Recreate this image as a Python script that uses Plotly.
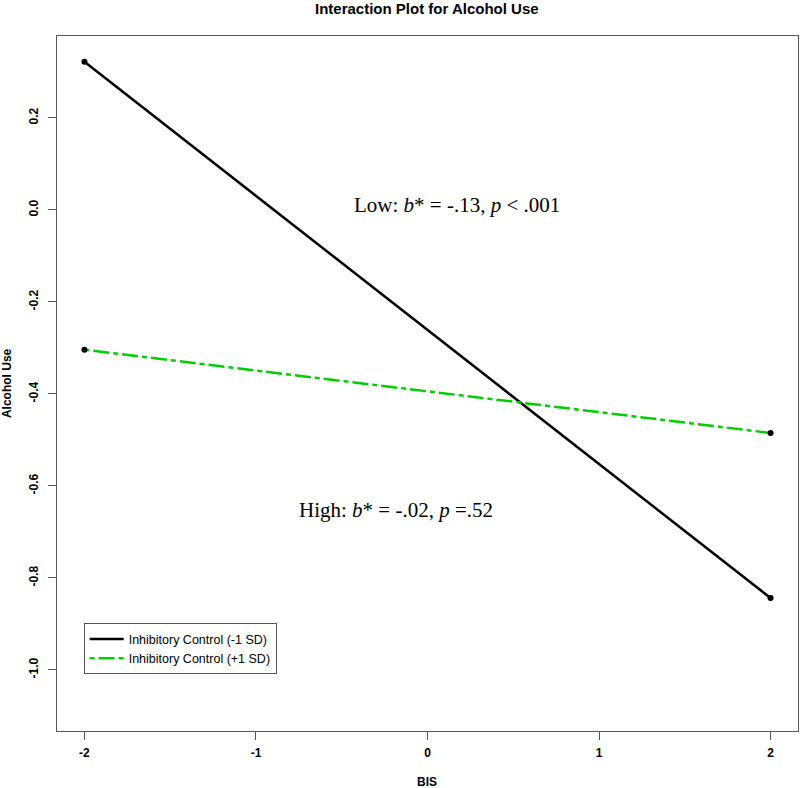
import plotly.graph_objects as go

# BIS at -1 SD and +1 SD (plotted as -2 / 2)
bis = [-2, 2]
low_ic = [0.322, -0.844]   # Inhibitory Control (-1 SD)
high_ic = [-0.304, -0.485]  # Inhibitory Control (+1 SD)
series_names = ["Inhibitory Control (-1 SD)", "Inhibitory Control (+1 SD)"]

x_ticks = [-2, -1, 0, 1, 2]
x_tick_labels = ["-2", "-1", "0", "1", "2"]
y_ticks = [-1.0, -0.8, -0.6, -0.4, -0.2, 0.0, 0.2]
y_tick_labels = ["-1.0", "-0.8", "-0.6", "-0.4", "-0.2", "0.0", "0.2"]

SANS = "Liberation Sans Narrow, Liberation Sans, Arial, sans-serif"
SERIF = "Liberation Serif, Times New Roman, serif"
GREEN = "#00CD00"
FRAME = "#555555"

fig = go.Figure()
# lines (legend entries, lines only like R's legend)
fig.add_trace(go.Scatter(
    x=bis, y=low_ic, mode="lines", name=series_names[0],
    line=dict(color="black", width=2.5),
))
fig.add_trace(go.Scatter(
    x=bis, y=high_ic, mode="lines", name=series_names[1],
    line=dict(color=GREEN, width=2.5, dash="5px,4px,16px,4px"),
))
# end points
for ys in (low_ic, high_ic):
    fig.add_trace(go.Scatter(
        x=bis, y=ys, mode="markers", showlegend=False,
        marker=dict(color="black", size=6), hoverinfo="skip",
    ))

fig.add_annotation(
    x=0.17, y=0.011, xref="x", yref="y", showarrow=False,
    text="Low: <i>b</i>* = -.13, <i>p</i> < .001",
    font=dict(family=SERIF, size=21, color="black"),
)
fig.add_annotation(
    x=-0.185, y=-0.652, xref="x", yref="y", showarrow=False,
    text="High: <i>b</i>* = -.02, <i>p</i> =.52",
    font=dict(family=SERIF, size=21, color="black"),
)

# title and axis titles placed as R does (centered on the plot region)
fig.add_annotation(
    x=0.499, y=1.040, xref="paper", yref="paper", showarrow=False,
    xanchor="center", yanchor="middle",
    text="<b>Interaction Plot for Alcohol Use</b>",
    font=dict(family=SANS, size=15, color="black"),
)
fig.add_annotation(
    x=0.499, y=-0.073, xref="paper", yref="paper", showarrow=False,
    xanchor="center", yanchor="middle",
    text="<b>BIS</b>",
    font=dict(family=SANS, size=12, color="black"),
)
fig.add_annotation(
    x=-0.068, y=0.5, xref="paper", yref="paper", showarrow=False,
    xanchor="center", yanchor="middle", textangle=-90,
    text="<b>Alcohol Use</b>",
    font=dict(family=SANS, size=12, color="black"),
)

axis_common = dict(
    showgrid=False, zeroline=False, automargin=False,
    showline=True, linecolor=FRAME, linewidth=1, mirror=True,
    ticks="outside", ticklen=8, tickcolor=FRAME, tickwidth=1,
    tickfont=dict(family=SANS, size=12, color="black", weight="bold"),
)

fig.update_layout(
    width=800, height=788,
    paper_bgcolor="white", plot_bgcolor="white",
    margin=dict(l=57, r=2, t=36, b=57),
    xaxis=dict(
        range=[-2.16, 2.16],
        tickvals=x_ticks, ticktext=x_tick_labels, ticklabelstandoff=3,
        **axis_common,
    ),
    yaxis=dict(
        range=[-1.133, 0.378],
        tickvals=y_ticks, ticktext=y_tick_labels, tickangle=-90,
        ticklabelstandoff=5,
        **axis_common,
    ),
    showlegend=True,
    legend=dict(
        x=0.036, y=0.155, xanchor="left", yanchor="top",
        bgcolor="white", bordercolor=FRAME, borderwidth=1,
        font=dict(family="Liberation Sans, Arial, sans-serif", size=12.5, color="black"),
        tracegroupgap=0, itemwidth=34,
    ),
)

# drop the default page margin so the figure sits at the window's corner
fig.write_html(
    "out.html",
    config={"displayModeBar": False},
    post_script="document.body.style.margin = '0';",
)
